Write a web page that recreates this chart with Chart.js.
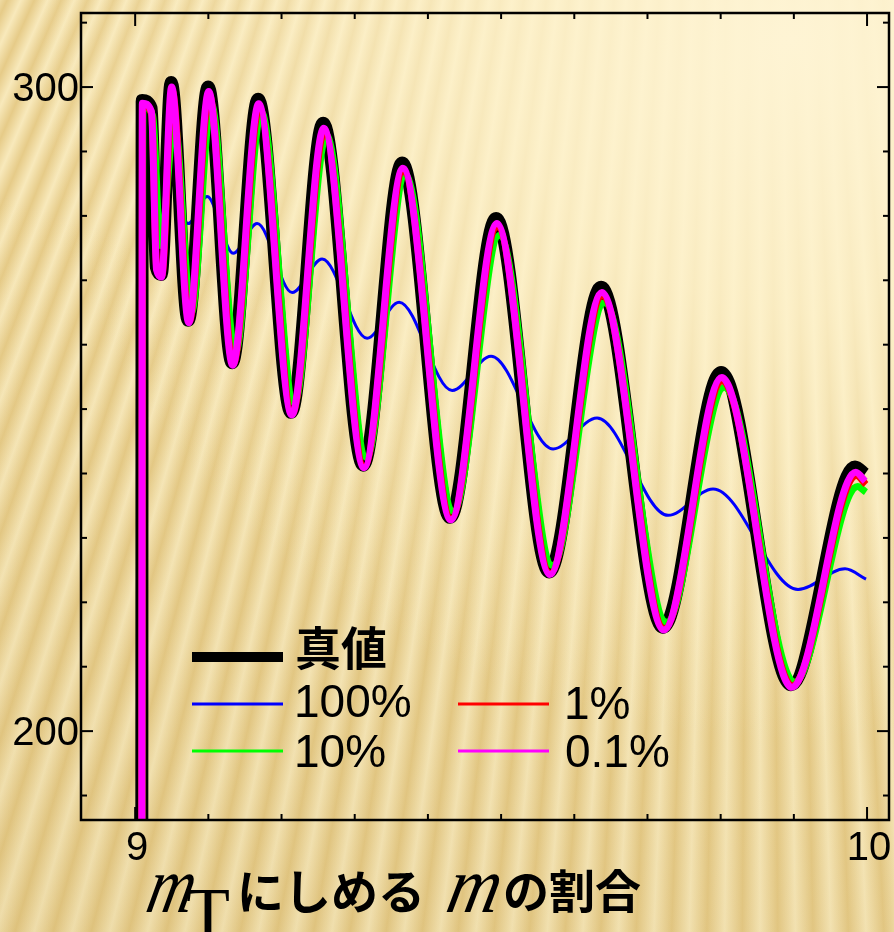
<!DOCTYPE html>
<html>
<head>
<meta charset="utf-8">
<title>m_T にしめる m の割合</title>
<script src="https://cdn.jsdelivr.net/npm/chart.js"></script>
<style>
html, body { margin: 0; padding: 0; }
body {
  width: 894px; height: 932px; overflow: hidden;
  background:
    radial-gradient(ellipse 760px 700px at 790px 40px, rgba(254,244,212,1) 0%, rgba(254,243,206,0.8) 38%, rgba(252,240,200,0) 100%),
    linear-gradient(200deg, rgba(0,0,0,0) 40%, rgba(150,110,20,0.10) 100%),
    repeating-conic-gradient(from 0deg at 760px -1600px, #f8e9bb 0deg, #e6cb88 0.4deg, #f8e9bb 0.8deg),
    #f3e0a8;
}
canvas { position: absolute; left: 0; top: 0; }
</style>
</head>
<body>
<canvas id="chart" width="894" height="932"></canvas>
<script>
// 真値 (black)
const trueX = [9.0090, 9.0096, 9.0219, 9.0290, 9.0355, 9.0492, 9.0724, 9.0997, 9.1325, 9.1680, 9.2131, 9.2568, 9.3115, 9.3648, 9.4303, 9.4932, 9.5656, 9.6366, 9.7213, 9.8005, 9.8962, 9.9836, 9.9970];
const trueY = [150, 297.9, 296.7, 272.0, 270.9, 300.7, 263.8, 300.0, 257.2, 298.1, 249.5, 294.4, 241.3, 288.2, 233.2, 279.6, 224.7, 268.9, 216.1, 255.7, 207.2, 241.0, 239.9];
// 100%
const p100X = [9.0090, 9.0096, 9.0300, 9.0464, 9.0724, 9.0984, 9.1339, 9.1667, 9.2145, 9.2555, 9.3169, 9.3607, 9.4331, 9.4863, 9.5710, 9.6311, 9.7281, 9.7896, 9.9057, 9.9699, 9.9986];
const p100Y = [150, 283.5, 282.4, 286.0, 278.8, 283.0, 274.2, 278.8, 268.1, 273.3, 261.0, 266.6, 252.9, 258.2, 243.8, 248.6, 233.5, 237.6, 222.0, 225.2, 223.6];
// 10%
const p10X = [9.0090, 9.0106, 9.0240, 9.0345, 9.0536, 9.0768, 9.1041, 9.1369, 9.1724, 9.2176, 9.2613, 9.3161, 9.3694, 9.4349, 9.4978, 9.5702, 9.6412, 9.7259, 9.8051, 9.9008, 9.9870, 9.9985];
const p10Y = [150, 297.0, 295.5, 275.4, 294.4, 265.0, 297.3, 258.8, 296.1, 251.0, 292.5, 242.5, 286.3, 234.1, 277.0, 225.7, 266.5, 216.9, 253.4, 207.6, 238.0, 237.1];
// 1%
const p1X = [9.0090, 9.0100, 9.0225, 9.0296, 9.0364, 9.0505, 9.0739, 9.1012, 9.1340, 9.1695, 9.2147, 9.2584, 9.3132, 9.3665, 9.4320, 9.4949, 9.5673, 9.6383, 9.7230, 9.8022, 9.8979, 9.9853, 9.9985];
const p1Y = [150, 297.2, 295.9, 271.7, 270.7, 299.5, 263.6, 298.8, 257.0, 296.9, 249.3, 293.1, 241.1, 286.9, 233.0, 278.3, 224.5, 267.6, 215.9, 254.4, 207.0, 239.7, 238.3];
// 0.1%
const p01X = [9.0090, 9.0098, 9.0222, 9.0293, 9.0360, 9.0498, 9.0732, 9.1005, 9.1333, 9.1688, 9.2140, 9.2577, 9.3125, 9.3658, 9.4313, 9.4942, 9.5666, 9.6376, 9.7223, 9.8015, 9.8972, 9.9846, 9.9975];
const p01Y = [150, 297.5, 296.2, 271.6, 270.5, 300.0, 263.4, 299.3, 256.8, 297.4, 249.1, 293.6, 240.9, 287.4, 232.8, 278.8, 224.3, 268.1, 215.7, 254.9, 206.8, 240.2, 238.8];

// axis ticks
const xMajor = [9, 10];
const xMinor = [9.1, 9.2, 9.3, 9.4, 9.5, 9.6, 9.7, 9.8, 9.9];
const yMajor = [200, 300];
const yMinor = [190, 210, 220, 230, 240, 250, 260, 270, 280, 290, 310];

const pts = (xs, ys) => xs.map((x, i) => ({ x: x, y: ys[i] }));

function line(ctx, x1, y1, x2, y2) {
  ctx.beginPath(); ctx.moveTo(x1, y1); ctx.lineTo(x2, y2); ctx.stroke();
}

// slanted serif "m" of the axis title
function italicM(ctx, x, y, sx) {
  ctx.save();
  ctx.translate(x, y);
  ctx.transform(sx, 0, -0.22, 1, 0, 0);
  ctx.font = 'italic 80px "Liberation Serif", "Times New Roman", serif';
  ctx.fillText('m', 0, 0);
  ctx.restore();
}

// frame, inward ticks and tick labels
const framePlugin = {
  id: 'frame',
  afterDatasetsDraw(chart) {
    const { ctx, chartArea: a, scales: { x, y } } = chart;
    ctx.save();
    ctx.strokeStyle = '#000';
    ctx.lineWidth = 2;
    xMajor.forEach(v => { const p = x.getPixelForValue(v); line(ctx, p, a.bottom, p, a.bottom - 13); line(ctx, p, a.top, p, a.top + 13); });
    xMinor.forEach(v => { const p = x.getPixelForValue(v); line(ctx, p, a.bottom, p, a.bottom - 6); line(ctx, p, a.top, p, a.top + 6); });
    yMajor.forEach(v => { const p = y.getPixelForValue(v); line(ctx, a.left, p, a.left + 12, p); line(ctx, a.right, p, a.right - 12, p); });
    yMinor.forEach(v => { const p = y.getPixelForValue(v); line(ctx, a.left, p, a.left + 6, p); line(ctx, a.right, p, a.right - 6, p); });
    ctx.lineWidth = 2.5;
    ctx.strokeRect(a.left, a.top, a.right - a.left, a.bottom - a.top);

    ctx.fillStyle = '#000';
    ctx.font = '40px "Liberation Sans", Arial, sans-serif';
    ctx.textBaseline = 'alphabetic';
    ctx.textAlign = 'right';
    yMajor.forEach(v => ctx.fillText(String(v), a.left - 2, y.getPixelForValue(v) + 13.5));
    ctx.textAlign = 'center';
    xMajor.forEach(v => ctx.fillText(String(v), x.getPixelForValue(v) + 2, a.bottom + 40));
    ctx.restore();
  },
  afterDraw(chart) {
    const ctx = chart.ctx;
    const ds = chart.data.datasets;
    ctx.save();
    // legend
    const slots = [
      { i: 0, x: 192, y: 657, w: 10, tx: 295, ty: 665, font: 'bold 46px "Noto Sans CJK JP", sans-serif' },
      { i: 1, x: 192, y: 704, w: 3, tx: 294, ty: 717, font: '46px "Liberation Sans", Arial, sans-serif' },
      { i: 2, x: 192, y: 751, w: 3, tx: 294, ty: 767, font: '46px "Liberation Sans", Arial, sans-serif' },
      { i: 3, x: 458, y: 704, w: 3, tx: 564, ty: 719, font: '46px "Liberation Sans", Arial, sans-serif' },
      { i: 4, x: 458, y: 751, w: 3, tx: 565, ty: 767, font: '46px "Liberation Sans", Arial, sans-serif' }
    ];
    slots.forEach(s => {
      ctx.strokeStyle = ds[s.i].borderColor;
      ctx.lineWidth = s.w;
      line(ctx, s.x, s.y, s.x + 91, s.y);
      ctx.fillStyle = '#000';
      ctx.font = s.font;
      ctx.textAlign = 'left';
      ctx.fillText(ds[s.i].label, s.tx, s.ty);
    });

    // x axis title: m_T にしめる m の割合
    ctx.fillStyle = '#000';
    italicM(ctx, 144, 912, 0.8);
    ctx.font = '72px "Liberation Serif", "Times New Roman", serif';
    ctx.fillText('T', 186, 937);
    ctx.font = 'bold 47px "Noto Sans CJK JP", sans-serif';
    ctx.fillText('にしめる', 237, 909);
    italicM(ctx, 444, 912, 0.9);
    ctx.font = 'bold 46px "Noto Sans CJK JP", sans-serif';
    ctx.fillText('の割合', 503, 908);
    ctx.restore();
  }
};

const common = { pointRadius: 0, fill: false, cubicInterpolationMode: 'monotone', clip: 0 };

new Chart(document.getElementById('chart').getContext('2d'), {
  type: 'line',
  data: {
    datasets: [
      Object.assign({ label: '真値', data: pts(trueX, trueY), borderColor: '#000000', borderWidth: 13, order: 4 }, common),
      Object.assign({ label: '100%', data: pts(p100X, p100Y), borderColor: '#0000ff', borderWidth: 3, order: 5 }, common),
      Object.assign({ label: '10%', data: pts(p10X, p10Y), borderColor: '#00ff00', borderWidth: 7, order: 3 }, common),
      Object.assign({ label: '1%', data: pts(p1X, p1Y), borderColor: '#ff0000', borderWidth: 7, order: 2 }, common),
      Object.assign({ label: '0.1%', data: pts(p01X, p01Y), borderColor: '#ff00ff', borderWidth: 7, order: 1 }, common)
    ]
  },
  options: {
    responsive: false,
    animation: false,
    layout: { padding: { left: 81, top: 13, right: 5, bottom: 112 } },
    plugins: { legend: { display: false }, tooltip: { enabled: false } },
    scales: {
      x: { type: 'linear', min: 8.926, max: 10.03, display: false },
      y: { type: 'linear', min: 186.2, max: 311.5, display: false }
    }
  },
  plugins: [framePlugin]
});
</script>
</body>
</html>
